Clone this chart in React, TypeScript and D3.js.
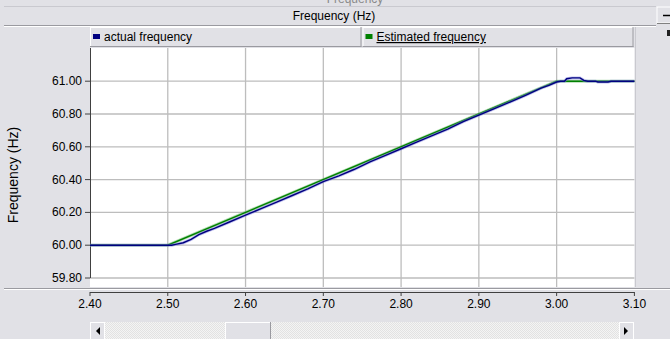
import React from "react";
import * as d3 from "d3";

const xTicks = [2.4, 2.5, 2.6, 2.7, 2.8, 2.9, 3.0, 3.1];
const yTicks = [59.8, 60.0, 60.2, 60.4, 60.6, 60.8, 61.0];

const estT = [2.4, 2.5, 3.0, 3.1];
const estV = [60.0, 60.0, 61.0, 61.0];

const actT = [2.4, 2.5, 2.505, 2.51, 2.52, 2.53, 2.54, 2.55, 2.56, 2.58, 2.6, 2.62, 2.64, 2.66, 2.68, 2.7, 2.72, 2.74, 2.76, 2.78, 2.8, 2.82, 2.84, 2.86, 2.88, 2.9, 2.92, 2.94, 2.96, 2.98, 2.99, 3.0, 3.005, 3.01, 3.013, 3.02, 3.03, 3.035, 3.04, 3.05, 3.053, 3.066, 3.07, 3.1];
const actV = [60.0, 60.0, 60.0, 60.005, 60.015, 60.035, 60.065, 60.085, 60.103, 60.143, 60.183, 60.223, 60.263, 60.303, 60.343, 60.388, 60.423, 60.463, 60.508, 60.548, 60.588, 60.628, 60.668, 60.708, 60.753, 60.793, 60.833, 60.873, 60.913, 60.958, 60.975, 60.995, 61.0, 61.0, 61.015, 61.02, 61.02, 61.005, 61.0, 61.0, 60.995, 60.995, 61.0, 61.0];

const legendLabels = ["actual frequency", "Estimated frequency"];
const headerTitle = "Frequency (Hz)";
const yTitle = "Frequency (Hz)";

const W = 670;
const H = 339;
const BG = "#e1e1e6";
const FONT = "'Liberation Sans', Arial, sans-serif";

export default function App() {
  const left = 90;
  const right = 634.4;
  const plotTop = 48;
  const plotBottom = 287;
  const x = d3.scaleLinear().domain([2.4, 3.1]).range([left, right]);
  const y = d3.scaleLinear().domain([59.8, 61.0]).range([278, 81.2]);

  const est = estT.map((t, i) => [t, estV[i]] as [number, number]);
  const act = actT.map((t, i) => [t, actV[i]] as [number, number]);
  const line = d3
    .line<[number, number]>()
    .x((d) => x(d[0]))
    .y((d) => y(d[1]));

  const axisY = 292;
  const cells = [
    { x0: 90, x1: 361.5, color: "#000080" },
    { x0: 362.5, x1: 633.5, color: "#008000" },
  ];

  return (
    <div style={{ position: "absolute", left: 0, top: 0 }}>
      <svg width={W} height={H} style={{ display: "block" }} fontFamily={FONT}>
        <rect x={0} y={0} width={W} height={H} fill={BG} />
        {/* cut-off title at very top */}
        <text x={355} y={3} textAnchor="middle" fontSize={12} fill="#8a8a8a">
          Frequency
        </text>
        {/* header bar */}
        <line x1={4} x2={656} y1={6.5} y2={6.5} stroke="#c9c9cf" />
        <line x1={4} x2={656} y1={25.5} y2={25.5} stroke="#9a9aa0" />
        <line x1={4} x2={656} y1={26.5} y2={26.5} stroke="#ffffff" />
        <text x={334} y={20} textAnchor="middle" fontSize={12} fill="#000">
          {headerTitle}
        </text>
        {/* minimize button */}
        <rect x={657} y={7} width={14} height={16} fill={BG} stroke="#ffffff" />
        <line x1={657} x2={670} y1={23.5} y2={23.5} stroke="#808080" />
        <line x1={663} x2={670} y1={15.5} y2={15.5} stroke="#000" strokeWidth={1.5} />
        {/* right panel */}
        <line x1={635.5} x2={635.5} y1={27} y2={287} stroke="#c9c9cf" />
        <rect x={667} y={30} width={3} height={6} fill="#202020" />
        {/* legend cells */}
        {cells.map((c, i) => (
          <g key={i}>
            <rect x={c.x0} y={27} width={c.x1 - c.x0} height={20} fill={BG} />
            <line x1={c.x0} x2={c.x1} y1={27.5} y2={27.5} stroke="#ffffff" />
            <line x1={c.x0 + 0.5} x2={c.x0 + 0.5} y1={27} y2={47} stroke="#ffffff" />
            <line x1={c.x1 - 0.5} x2={c.x1 - 0.5} y1={27} y2={47} stroke="#9a9aa0" />
            <line x1={c.x0} x2={c.x1} y1={46.5} y2={46.5} stroke="#9a9aa0" />
            <rect x={c.x0 + 3} y={34} width={7} height={5} fill={c.color} />
            <text
              x={c.x0 + 14}
              y={41}
              fontSize={12}
              fill="#000"
              textDecoration={i === 1 ? "underline" : undefined}
            >
              {legendLabels[i]}
            </text>
          </g>
        ))}
        {/* plot area */}
        <rect x={left} y={plotTop} width={right - left} height={plotBottom - plotTop} fill="#ffffff" />
        {xTicks.slice(1, -1).map((t) => (
          <line key={"gx" + t} x1={x(t)} x2={x(t)} y1={plotTop} y2={plotBottom} stroke="#bdbdbd" strokeWidth={1.3} />
        ))}
        {yTicks.map((t) => (
          <line key={"gy" + t} x1={left} x2={right} y1={y(t)} y2={y(t)} stroke="#bdbdbd" strokeWidth={1.3} />
        ))}
        {/* y axis */}
        <line x1={left + 0.5} x2={left + 0.5} y1={plotTop} y2={y(59.8)} stroke="#404040" />
        {yTicks.map((t) => (
          <g key={"ty" + t}>
            <line x1={left - 5} x2={left} y1={y(t)} y2={y(t)} stroke="#404040" />
            <text x={left - 8} y={y(t) + 4} textAnchor="end" fontSize={12} fill="#000">
              {t.toFixed(2)}
            </text>
          </g>
        ))}
        <text
          transform={`translate(18,${175}) rotate(-90)`}
          textAnchor="middle"
          fontSize={14}
          fill="#000"
        >
          {yTitle}
        </text>
        {/* data */}
        <path d={line(est) || ""} fill="none" stroke="#66bb66" strokeOpacity={0.5} strokeWidth={3} />
        <path d={line(est) || ""} fill="none" stroke="#008000" strokeWidth={1.4} />
        <path d={line(act) || ""} fill="none" stroke="#8080e0" strokeOpacity={0.5} strokeWidth={3} />
        <path d={line(act) || ""} fill="none" stroke="#000080" strokeWidth={1.4} />
        {/* separator */}
        <line x1={4} x2={W} y1={288.5} y2={288.5} stroke="#9a9aa0" />
        <line x1={4} x2={W} y1={289.5} y2={289.5} stroke="#ffffff" />
        {/* x axis */}
        <line x1={left} x2={right} y1={axisY + 0.5} y2={axisY + 0.5} stroke="#404040" />
        {xTicks.map((t) => (
          <g key={"tx" + t}>
            <line x1={x(t)} x2={x(t)} y1={axisY} y2={axisY + 4} stroke="#404040" />
            <text x={x(t)} y={axisY + 16} textAnchor="middle" fontSize={12} fill="#000">
              {t.toFixed(2)}
            </text>
          </g>
        ))}
        {/* scrollbar */}
        <defs>
          <pattern id="dither" width={2} height={2} patternUnits="userSpaceOnUse">
            <rect width={2} height={2} fill="#f4f4f4" />
            <rect width={1} height={1} fill="#e2e2e2" />
            <rect x={1} y={1} width={1} height={1} fill="#e2e2e2" />
          </pattern>
        </defs>
        <rect x={90} y={322} width={544} height={17} fill="url(#dither)" />
        <rect x={90.5} y={322.5} width={14} height={17} fill={BG} stroke="#ffffff" />
        <path d="M100,327 L96,331 L100,335 Z" fill="#000" />
        <rect x={225.5} y={322.5} width={45} height={17} fill={BG} stroke="#ffffff" />
        <line x1={270.5} x2={270.5} y1={322} y2={339} stroke="#9a9aa0" />
        <rect x={619.5} y={322.5} width={14} height={17} fill={BG} stroke="#ffffff" />
        <path d="M624,327 L628,331 L624,335 Z" fill="#000" />
      </svg>
    </div>
  );
}
